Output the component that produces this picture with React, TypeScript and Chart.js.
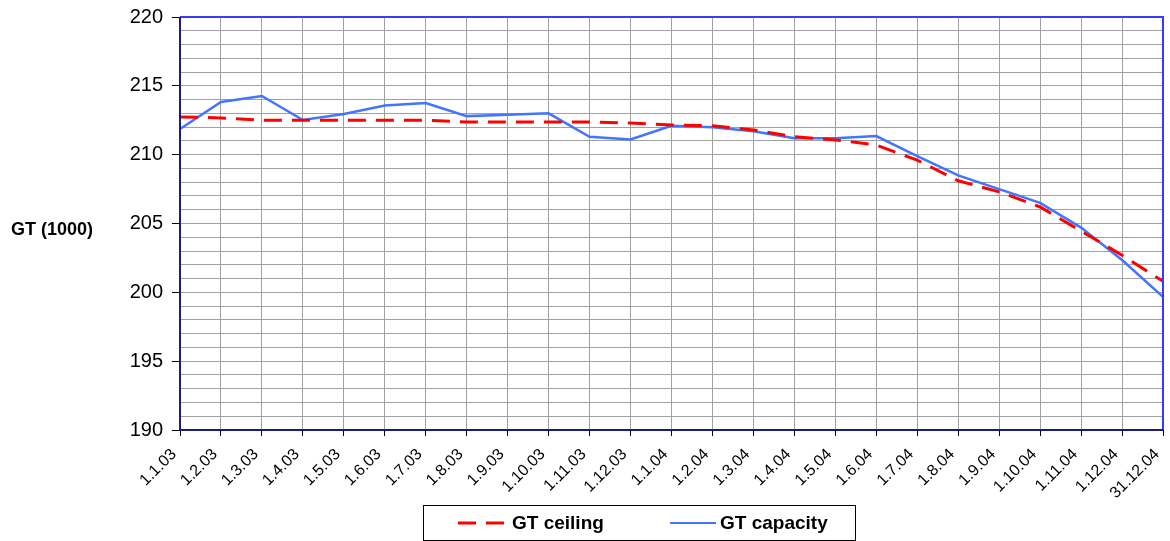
import React, { useEffect, useRef } from "react";
import { Chart, registerables } from "chart.js";

Chart.register(...registerables);

const categories = [
  "1.1.03", "1.2.03", "1.3.03", "1.4.03", "1.5.03", "1.6.03", "1.7.03", "1.8.03",
  "1.9.03", "1.10.03", "1.11.03", "1.12.03", "1.1.04", "1.2.04", "1.3.04", "1.4.04",
  "1.5.04", "1.6.04", "1.7.04", "1.8.04", "1.9.04", "1.10.04", "1.11.04", "1.12.04", "31.12.04",
];

const gtCeiling = [
  212.74, 212.67, 212.5, 212.5, 212.5, 212.5, 212.5, 212.37, 212.37, 212.37, 212.37, 212.3,
  212.15, 212.1, 211.8, 211.3, 211.07, 210.7, 209.6, 208.1, 207.3, 206.2, 204.45, 202.7, 200.8,
];

const gtCapacity = [
  211.87, 213.83, 214.26, 212.52, 212.96, 213.57, 213.75, 212.8, 212.9, 213.0, 211.3, 211.1,
  212.1, 212.0, 211.7, 211.2, 211.2, 211.35, 209.9, 208.5, 207.5, 206.5, 204.7, 202.35, 199.67,
];

const yMin = 190;
const yMax = 220;
const yTitle = "GT (1000)";
const seriesNames = ["GT ceiling", "GT capacity"];

const FONT = "'Liberation Sans', Arial, sans-serif";
const RED = "#ff0000";
const BLUE = "#4275ff";

const framePlugin = {
  id: "frame",
  afterDraw(chart: any) {
    const { ctx, chartArea } = chart;
    const { left, right, top, bottom } = chartArea;
    ctx.save();
    ctx.strokeStyle = "#3a3aff";
    ctx.lineWidth = 2;
    ctx.beginPath();
    ctx.moveTo(left, top);
    ctx.lineTo(right, top);
    ctx.lineTo(right, bottom);
    ctx.stroke();
    ctx.strokeStyle = "#1c1c80";
    ctx.beginPath();
    ctx.moveTo(left, top);
    ctx.lineTo(left, bottom);
    ctx.lineTo(right, bottom);
    ctx.stroke();

    ctx.fillStyle = "#000";
    ctx.font = `bold 18px ${FONT}`;
    ctx.textAlign = "center";
    ctx.textBaseline = "middle";
    ctx.fillText(yTitle, 52, 230);

    const bx = 423, by = 505, bw = 432, bh = 35;
    ctx.strokeStyle = "#000";
    ctx.lineWidth = 1;
    ctx.strokeRect(bx + 0.5, by + 0.5, bw, bh);
    const ly = by + 18;
    ctx.font = `bold 19px ${FONT}`;
    ctx.textAlign = "left";
    ctx.textBaseline = "middle";
    ctx.strokeStyle = RED;
    ctx.lineWidth = 3;
    ctx.setLineDash([18, 10]);
    ctx.beginPath();
    ctx.moveTo(458, ly);
    ctx.lineTo(505, ly);
    ctx.stroke();
    ctx.setLineDash([]);
    ctx.fillText(seriesNames[0], 512, ly + 1);
    ctx.strokeStyle = BLUE;
    ctx.lineWidth = 2;
    ctx.beginPath();
    ctx.moveTo(670, ly);
    ctx.lineTo(716, ly);
    ctx.stroke();
    ctx.fillText(seriesNames[1], 720, ly + 1);
    ctx.restore();
  },
};

export default function App() {
  const ref = useRef<HTMLCanvasElement>(null);
  useEffect(() => {
    if (!ref.current) return;
    const chart = new Chart(ref.current, {
      type: "line",
      data: {
        labels: categories,
        datasets: [
          {
            label: seriesNames[0],
            data: gtCeiling,
            borderColor: RED,
            borderWidth: 3,
            borderDash: [18, 10],
            pointRadius: 0,
            tension: 0,
            fill: false,
          },
          {
            label: seriesNames[1],
            data: gtCapacity,
            borderColor: BLUE,
            borderWidth: 2.5,
            pointRadius: 0,
            tension: 0,
            fill: false,
          },
        ],
      },
      options: {
        animation: false,
        responsive: false,
        maintainAspectRatio: false,
        layout: { padding: { top: 17, right: 7, left: 0, bottom: 0 } },
        plugins: {
          legend: { display: false },
          tooltip: { enabled: false },
          title: { display: false },
        },
        scales: {
          x: {
            type: "category",
            offset: false,
            grid: {
              color: "#a0a0a0",
              lineWidth: 1,
              tickLength: 6,
              tickColor: "#000",
            },
            border: { display: false },
            ticks: {
              autoSkip: false,
              maxRotation: 45,
              minRotation: 45,
              color: "#000",
              padding: 9,
              labelOffset: -6,
              font: { family: FONT, size: 16 },
            },
            afterFit: (s: any) => {
              s.height = 111;
              s.paddingLeft = 0;
              s.paddingRight = 0;
            },
          },
          y: {
            min: yMin,
            max: yMax,
            grid: {
              color: "#a0a0a0",
              lineWidth: 1,
              tickLength: 8,
              tickColor: (c: any) => (c.tick && c.tick.value % 5 === 0 ? "#000" : "rgba(0,0,0,0)"),
            },
            border: { display: false },
            ticks: {
              stepSize: 1,
              autoSkip: false,
              color: "#000",
              padding: 9,
              font: { family: FONT, size: 20 },
              callback: (v: any) => (Number(v) % 5 === 0 ? String(v) : ""),
            },
            afterFit: (s: any) => {
              s.width = 180;
              s.paddingTop = 0;
              s.paddingBottom = 0;
            },
          },
        },
      },
      plugins: [framePlugin],
    });
    return () => chart.destroy();
  }, []);
  return (
    <div style={{ position: "fixed", left: 0, top: 0, width: 1170, height: 541, background: "#fff" }}>
      <canvas ref={ref} width={1170} height={541} style={{ display: "block" }} />
    </div>
  );
}
